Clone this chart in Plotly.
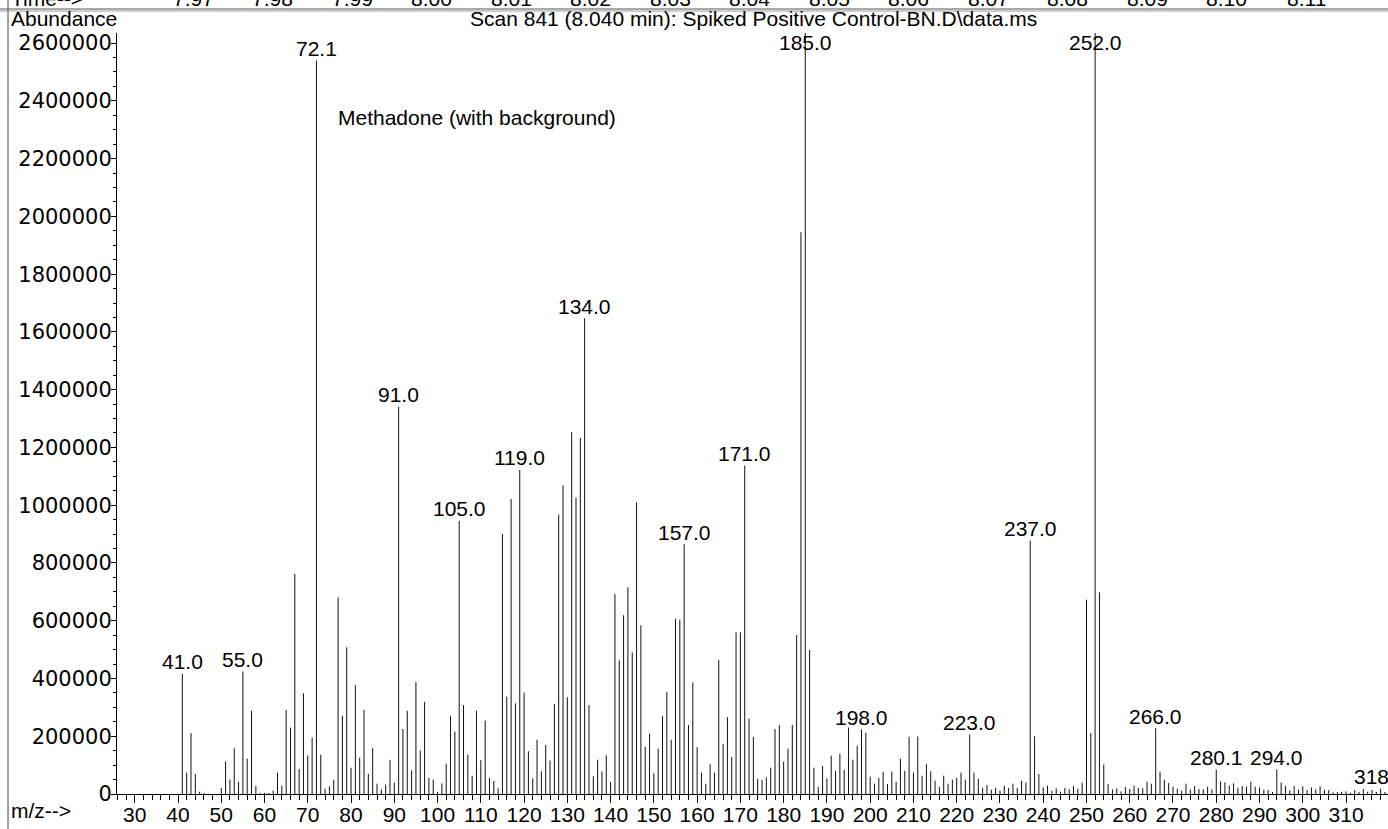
import plotly.graph_objects as go

mz = [41, 42, 43, 44, 45, 46, 50, 51, 52, 53, 54, 55, 56, 57, 58, 59, 60,
      61, 62, 63, 64, 65, 66, 67, 68, 69, 70, 71, 72, 73, 74, 75, 76, 77,
      78, 79, 80, 81, 82, 83, 84, 85, 86, 87, 88, 89, 90, 91, 92, 93, 94,
      95, 96, 97, 98, 99, 100, 101, 102, 103, 104, 105, 106, 107, 108, 109,
      110, 111, 112, 113, 114, 115, 116, 117, 118, 119, 120, 121, 122, 123,
      124, 125, 126, 127, 128, 129, 130, 131, 132, 133, 134, 135, 136, 137,
      138, 139, 140, 141, 142, 143, 144, 145, 146, 147, 148, 149, 150, 151,
      152, 153, 154, 155, 156, 157, 158, 159, 160, 161, 162, 163, 164, 165,
      166, 167, 168, 169, 170, 171, 172, 173, 174, 175, 176, 177, 178, 179,
      180, 181, 182, 183, 184, 185, 186, 187, 188, 189, 190, 191, 192, 193,
      194, 195, 196, 197, 198, 199, 200, 201, 202, 203, 204, 205, 206, 207,
      208, 209, 210, 211, 212, 213, 214, 215, 216, 217, 218, 219, 220, 221,
      222, 223, 224, 225, 226, 227, 228, 229, 230, 231, 232, 233, 234, 235,
      236, 237, 238, 239, 240, 241, 242, 243, 244, 245, 246, 247, 248, 249,
      250, 251, 252, 253, 254, 255, 256, 257, 258, 259, 260, 261, 262, 263,
      264, 265, 266, 267, 268, 269, 270, 271, 272, 273, 274, 275, 276, 277,
      278, 279, 280, 281, 282, 283, 284, 285, 286, 287, 288, 289, 290, 291,
      292, 293, 294, 295, 296, 297, 298, 299, 300, 301, 302, 303, 304, 305,
      306, 307, 308, 309, 310, 311, 312, 313, 314, 315, 316, 317, 318, 319]

abundance = [
    416000, 74000, 211000, 69000, 8000, 3500,                       # 41-46
    21000, 113000, 50000, 158000, 42000, 424000, 122000, 288000,    # 50-57
    28000, 3500, 3500, 3500, 11500, 74000, 29000, 291000, 230000,   # 58-66
    762000, 87000, 349000, 134000, 195000, 2540000, 136000, 18500,  # 67-74
    26600, 49700, 681000, 271000, 508000, 91200, 377000, 126000,    # 75-82
    291000, 69300, 159000, 35800, 16200, 32300, 118000, 39300,      # 83-90
    1341000, 225000, 288000, 82000, 388000, 150000, 319000, 56600,  # 91-98
    49700, 8000, 37000, 105000, 269000, 216000, 946000, 308000,     # 99-106
    137000, 63500, 288000, 117000, 254000, 55400, 45000, 19600,     # 107-114
    900000, 337000, 1021000, 314000, 1122000, 351000, 148000,       # 115-121
    54300, 188000, 78500, 170000, 115500, 312000, 968000, 1069000,  # 122-129
    335000, 1253000, 1026000, 1233000, 1647000, 308000, 61200,      # 130-136
    119000, 78500, 134000, 41600, 692000, 463000, 619000, 716000,   # 137-144
    490000, 1010000, 584000, 164000, 209000, 71600, 157000, 269000, # 145-152
    353000, 188000, 607000, 603000, 865000, 239000, 386000, 162000, # 153-160
    73900, 35800, 103000, 73900, 464000, 173000, 266000, 128000,    # 161-168
    560000, 560000, 1137000, 261000, 198000, 52000, 48500, 57800,   # 169-176
    91200, 225000, 239000, 112000, 157000, 239000, 550000, 1945000, # 177-184
    2750000, 499000, 91200, 24300, 97000, 54300, 133000, 79700,     # 185-192
    139000, 83200, 230000, 119000, 167000, 224000, 212000, 60000,   # 193-200
    35800, 55400, 77400, 34600, 77400, 41600, 122000, 79700,        # 201-208
    198000, 73900, 199000, 63500, 103000, 78500, 46200, 24300,      # 209-216
    63500, 35800, 49700, 55400, 73900, 49700, 206000, 73900,        # 217-224
    53100, 21900, 31200, 15000, 20800, 11500, 28900, 20800,         # 225-232
    35800, 20800, 46200, 39300, 877000, 200000, 69300, 23100,       # 233-240
    28900, 11500, 19600, 8000, 20800, 16200, 27700, 18500,          # 241-248
    39300, 673000, 211000, 2700000, 698000, 102000, 34600, 16200,   # 249-256
    19600, 9200, 24300, 17300, 28900, 20800, 19600, 42700,          # 257-264
    35800, 228000, 77400, 49700, 38100, 25400, 18500, 11500,        # 265-272
    35800, 16200, 27700, 17300, 16200, 25400, 16200, 84300,         # 273-280
    43900, 40400, 28900, 37000, 21900, 27700, 25400, 42700,         # 281-288
    25400, 23100, 15000, 13900, 6900, 85500, 39300, 27700,          # 289-296
    12700, 27700, 15000, 26600, 13900, 23100, 16200, 26600,         # 297-304
    15000, 13900, 5800, 6900, 8000, 9200, 4600, 13900,              # 305-312
    6900, 17300, 8000, 13900, 6900, 18500, 6900,                    # 313-319
]

peak_labels = [41.0, 55.0, 72.1, 91.0, 105.0, 119.0, 134.0, 157.0, 171.0,
               185.0, 198.0, 223.0, 237.0, 252.0, 266.0, 280.1, 294.0, 318.0]

time_ticks = ['7.97', '7.98', '7.99', '8.00', '8.01', '8.02', '8.03', '8.04',
              '8.05', '8.06', '8.07', '8.08', '8.09', '8.10', '8.11']

x_ticks = list(range(30, 320, 10))
y_max = 2635000

FONT = 'Liberation Sans, Arial, sans-serif'
W, H = 1388, 829
L, R, T, B = 117, 0, 33, 35


def px_x(p):
    return (p - L) / (W - L - R)


def px_y(p):
    return (H - B - p) / (H - T - B)


# stick spectrum as one line trace with gaps
xs, ys = [], []
for m, a in zip(mz, abundance):
    xs += [m, m, None]
    ys += [0, a, None]

fig = go.Figure(go.Scatter(x=xs, y=ys, mode='lines',
                           line=dict(color='#111111', width=1),
                           hoverinfo='skip', showlegend=False))

annotations = []
lookup = dict(zip(mz, abundance))
for lab in peak_labels:
    h = lookup[int(round(lab))]
    if h >= y_max:
        annotations.append(dict(x=lab, y=y_max, text='%.1f' % lab,
                                showarrow=False, yanchor='middle', yshift=-9))
    else:
        annotations.append(dict(x=lab, y=h, text='%.1f' % lab,
                                showarrow=False, yanchor='middle', yshift=12))

annotations.append(dict(xref='paper', yref='paper', x=px_x(336),
                        y=px_y(117), xanchor='left', yanchor='middle',
                        text='Methadone (with background)', showarrow=False))
annotations.append(dict(xref='paper', yref='paper', x=px_x(9), y=px_y(18),
                        xanchor='left', yanchor='middle', text='Abundance',
                        showarrow=False))
annotations.append(dict(xref='paper', yref='paper', x=px_x(753), y=px_y(18),
                        xanchor='center', yanchor='middle',
                        text='Scan 841 (8.040 min): Spiked Positive '
                             'Control-BN.D\\data.ms',
                        showarrow=False))
annotations.append(dict(xref='paper', yref='paper', x=px_x(9), y=px_y(811),
                        xanchor='left', yanchor='middle', text='m/z-->',
                        showarrow=False))
# time row, cut off by the top edge as in the print
annotations.append(dict(xref='paper', yref='paper', x=px_x(9), y=px_y(-2),
                        xanchor='left', yanchor='middle', text='Time-->',
                        showarrow=False))
for i, t in enumerate(time_ticks):
    annotations.append(dict(xref='paper', yref='paper',
                            x=px_x(193 + i * 79.5), y=px_y(-2),
                            xanchor='center', yanchor='middle', text=t,
                            showarrow=False))

shapes = [
    dict(type='line', xref='paper', yref='paper', x0=px_x(0), x1=px_x(W),
         y0=px_y(9), y1=px_y(9), line=dict(color='#555', width=1)),
    dict(type='line', xref='paper', yref='paper', x0=px_x(0), x1=px_x(W),
         y0=px_y(11), y1=px_y(11), line=dict(color='#999', width=1)),
    dict(type='line', xref='paper', yref='paper', x0=px_x(8), x1=px_x(8),
         y0=px_y(0), y1=px_y(H), line=dict(color='#444', width=1)),
]

fig.update_layout(
    width=W, height=H,
    margin=dict(l=L, r=R, t=T, b=B, pad=0),
    paper_bgcolor='white', plot_bgcolor='white',
    font=dict(family=FONT, size=21, color='black'),
    annotations=annotations, shapes=shapes,
    xaxis=dict(range=[25.9, 319.7], tickvals=x_ticks,
               showline=True, linecolor='black', linewidth=1,
               ticks='outside', ticklen=8, tickcolor='black',
               minor=dict(dtick=2, tick0=30, ticks='outside', ticklen=5,
                          tickcolor='black'),
               showgrid=False, zeroline=False, ticklabelstandoff=-6,
               tickfont=dict(size=21)),
    yaxis=dict(range=[0, y_max], dtick=200000, tickformat='d',
               showline=True, linecolor='black', linewidth=1,
               ticks='outside', ticklen=5, tickcolor='black',
               minor=dict(dtick=50000, ticks='outside', ticklen=3,
                          tickcolor='black'),
               showgrid=False, zeroline=False, ticklabelstandoff=-5,
               tickfont=dict(family='DejaVu Sans, sans-serif', size=21)),
)

# drop the page's default 8px body margin so the figure sits at the corner
fig.write_html("out.html", config={'displayModeBar': False},
               post_script="document.body.style.margin='0';")
